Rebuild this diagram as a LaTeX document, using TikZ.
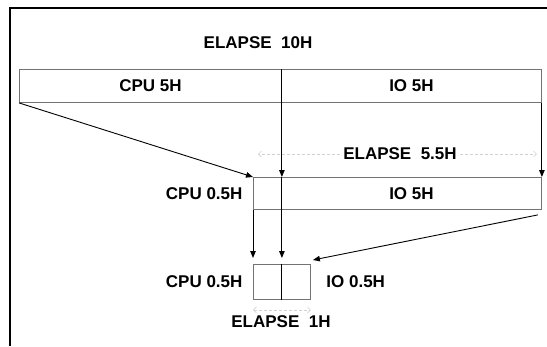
\documentclass[tikz,border=0pt]{standalone}
\usepackage{fontspec}
\setmainfont{Liberation Sans}
\usetikzlibrary{arrows.meta,positioning}

\begin{document}
\begin{tikzpicture}[x=1pt,y=-1pt,>={Triangle[length=7pt,width=5.5pt]},
  bar/.style={draw=black!55,line width=0.9pt,inner sep=0pt,anchor=north west},
  lbl/.style={font=\fontsize{17}{20}\selectfont\bfseries},
  flow/.style={->,line width=0.9pt},
  divline/.style={line width=0.9pt},
  dimline/.style={gray!35,densely dashed,line width=0.6pt,>={Straight Barb[length=3pt]}}]
  \useasboundingbox (0,0) rectangle (547,346);
  \draw[line width=1.2pt] (10,346) -- (10,8) -- (547,8);
  % first run: 10H
  \node[lbl] (el10) at (258,43) {ELAPSE\ \ 10H};
  \node[bar,lbl,minimum width=262pt,minimum height=33pt] (cpuA) at (19,69) {CPU 5H};
  \node[bar,lbl,minimum width=260pt,minimum height=33pt] (ioA) at (281,69) {IO 5H};
  % second run: 5.5H
  \node[bar,minimum width=28pt,minimum height=32pt] (cpuB) at (253,177) {};
  \node[bar,lbl,minimum width=260pt,minimum height=32pt] (ioB) at (281,177) {IO 5H};
  \node[lbl,left=7pt of cpuB] (cpuBl) {CPU 0.5H};
  \node[lbl] (el55) at (400,154) {ELAPSE\ \ 5.5H};
  % third run: 1H
  \node[bar,minimum width=28pt,minimum height=35pt] (cpuC) at (253,264) {};
  \node[bar,minimum width=29pt,minimum height=35pt] (ioC) at (281,264) {};
  \node[lbl,left=7pt of cpuC] (cpuCl) {CPU 0.5H};
  \node[lbl,right=12pt of ioC] (ioCl) {IO 0.5H};
  \node[lbl] (el1) at (281,322) {ELAPSE\ \ 1H};
  % dividers and flows
  \draw[divline] (cpuA.north east) -- (cpuA.south east);
  \draw[divline] (cpuB.north east) -- (cpuB.south east);
  \draw[divline] (cpuC.north east) -- (cpuC.south east);
  \draw[flow] (cpuA.south west) -- (cpuB.north west);
  \draw[flow] (cpuA.south east) -- (cpuB.north east);
  \draw[flow] (ioA.south east) -- (ioB.north east);
  \draw[flow,shorten >=6pt] (cpuB.south west) -- (cpuC.north west);
  \draw[flow,shorten >=6pt] (cpuB.south east) -- (cpuC.north east);
  \draw[flow] ([shift={(-4pt,-5pt)}]ioB.south east) -- ([shift={(2pt,4pt)}]ioC.north east);
  % faint span marks
  \draw[dimline,->,shorten >=5pt] (el55.west) -- (cpuB.north west |- el55.west);
  \draw[dimline,->,shorten >=5pt] (el55.east) -- (ioB.north east |- el55.east);
  \draw[dimline,<->] ([yshift=-10pt]cpuC.south west) -- ([yshift=-10pt]ioC.south east);
\end{tikzpicture}
\end{document}
